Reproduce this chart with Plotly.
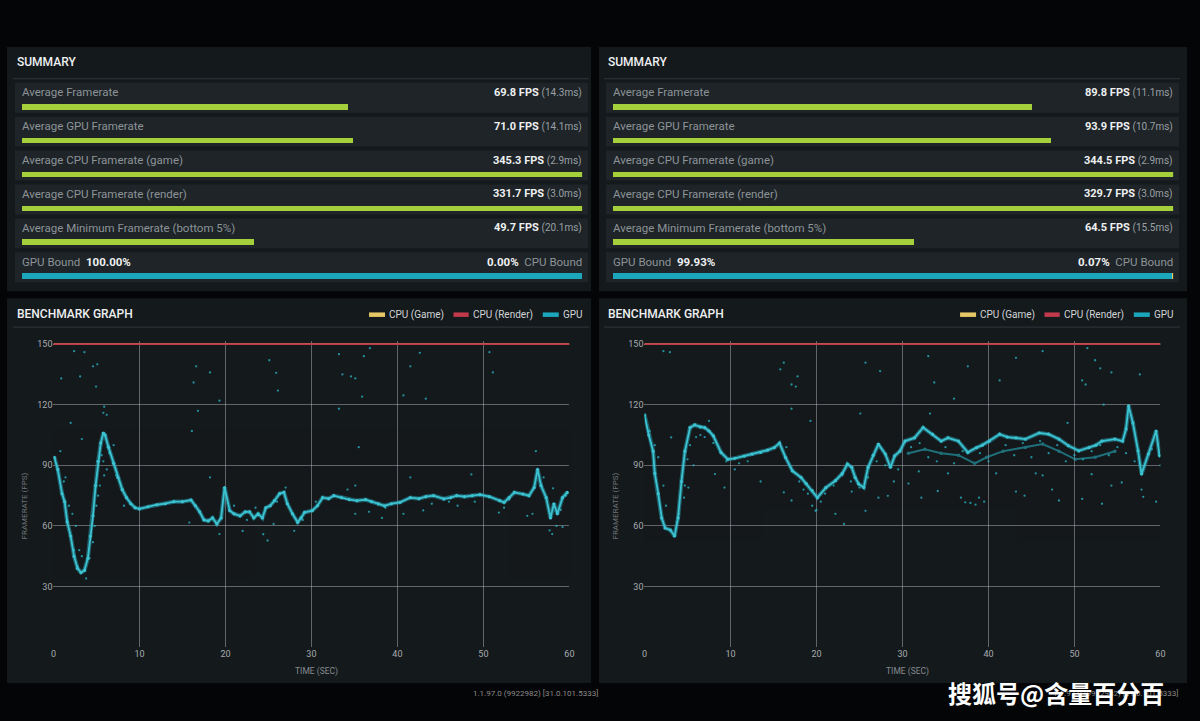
import plotly.graph_objects as go

W, H = 1200, 721
FONT = "Roboto"

# ---------------- data ----------------
SUMMARY_LABELS = ["Average Framerate", "Average GPU Framerate", "Average CPU Framerate (game)",
                  "Average CPU Framerate (render)", "Average Minimum Framerate (bottom 5%)"]
FPS_A = [69.8, 71.0, 345.3, 331.7, 49.7]
MS_A = [14.3, 14.1, 2.9, 3.0, 20.1]
FPS_B = [89.8, 93.9, 344.5, 329.7, 64.5]
MS_B = [11.1, 10.7, 2.9, 3.0, 15.5]
GPU_BOUND_A, CPU_BOUND_A = 100.00, 0.00
GPU_BOUND_B, CPU_BOUND_B = 99.93, 0.07
BAR_MAX_FPS = 120
GRAPH_MAX_FPS = 150
X_TICKS = [0, 10, 20, 30, 40, 50, 60]
Y_TICKS = [30, 60, 90, 120, 150]
LEGEND_NAMES = ["CPU (Game)", "CPU (Render)", "GPU"]
VERSION = "1.1.97.0 (9922982) [31.0.101.5333]"
WATERMARK = "搜狐号@含量百分百"

TIME_A = [0.1, 0.5, 1.0, 1.3, 1.6, 2.0, 2.4, 2.8, 3.2, 3.6, 4.0, 4.3, 4.6, 4.9, 5.2, 5.5, 5.8, 6.0, 6.4, 7.0,
          7.5, 8.0, 8.5, 9.0, 9.5, 10.0, 11.0, 12.0, 13.0, 14.0, 15.0, 16.0, 16.5, 17.0, 17.5, 18.0, 18.5, 19.0,
          19.5, 19.9, 20.5, 21.0, 21.7, 22.3, 22.8, 23.3, 23.8, 24.3, 24.7, 25.2, 25.7, 26.3, 26.8, 27.2, 27.8,
          28.4, 28.8, 29.2, 30.1, 30.7, 31.3, 32.0, 32.6, 33.5, 34.4, 35.3, 36.3, 37.0, 37.8, 38.5, 39.3, 40.3,
          41.5, 42.5, 43.3, 44.2, 45.4, 46.2, 46.9, 47.8, 48.7, 49.6, 50.7, 51.9, 52.4, 53.0, 53.6, 54.6, 55.3,
          55.9, 56.3, 56.7, 57.3, 57.8, 58.2, 58.6, 59.2, 59.75]
GPU_A = [94, 88, 76, 72, 62, 55, 45, 39, 37, 38, 44, 55, 65, 80, 92, 101, 106, 105, 99, 91,
         84, 78, 74, 71, 69, 68.5, 69.5, 70.5, 71, 72, 72, 72.8, 70, 67, 63, 62.5, 64, 61,
         64, 79, 67.6, 66, 65, 67, 67, 64, 66, 64, 69, 70, 72.5, 76, 76.6, 71, 66,
         61.8, 64, 66.7, 67.6, 70, 74, 73.5, 75, 74, 73, 72.5, 73, 72, 70.9, 70, 71, 71.7,
         74, 73.5, 74.5, 75, 73.4, 74, 75, 74.5, 75, 75.5, 74.5, 72.5, 71.7, 74, 76.6, 75.8, 75,
         79, 88, 80, 74, 64, 71, 66, 74, 76.6]
DOTS_A = [(2.4, 146.5), (3.6, 146), (4.6, 139), (5.1, 140), (0.9, 133), (4.95, 129), (3.1, 134), (5.9, 119),
          (5.8, 116), (6.2, 115), (2.0, 111), (16.6, 139), (16.3, 131), (16.8, 117), (18.2, 136), (16.1, 107),
          (18.2, 84), (3.3, 103), (8.2, 70), (15.8, 61.7), (25.9, 135.8), (26.1, 127), (33.2, 145), (33.6, 135),
          (34.6, 134), (35.1, 133), (35.9, 124), (36.1, 144), (36.8, 148), (33.2, 118), (35.5, 99), (25.1, 142),
          (19.3, 122), (35.1, 80), (34.2, 78), (24.9, 52.8), (24.4, 55.9), (22.0, 57.5), (19.3, 56), (28.0, 57.6),
          (25.6, 61), (35.1, 66), (38.2, 64), (38.6, 69), (36.7, 67), (42.6, 145.7), (41.5, 139), (50.7, 146),
          (51.1, 136), (43.3, 123), (40.7, 124.6), (56.1, 97), (48.6, 85.5), (41.5, 84), (40.7, 66), (43.0, 67.7),
          (47.0, 70), (52.4, 69), (51.8, 66.6), (55.1, 65), (55.7, 66), (58.0, 56), (57.7, 57.8), (59.2, 59.5),
          (58.1, 78.6), (59.6, 75), (1.2, 82), (1.8, 70), (2.2, 66), (2.6, 60), (3.0, 48), (3.3, 45), (4.6, 52),
          (4.8, 60), (5.2, 75), (5.4, 80), (5.6, 95), (5.8, 92), (6.2, 88), (6.5, 96), (7.0, 100), (7.3, 85),
          (0.8, 97), (1.4, 84), (2.4, 48), (2.8, 40), (3.8, 34), (4.2, 44), (5.0, 70), (5.9, 85),
          (21.0, 70), (22.5, 63), (23.5, 69), (26.0, 72), (27.0, 79), (29.0, 63), (30.5, 72), (44.0, 71),
          (46.0, 72), (49.0, 72), (53.0, 73), (57.0, 84), (58.5, 60), (59.0, 68)]

TIME_B = [0.0, 0.5, 1.0, 1.2, 1.6, 2.0, 2.4, 3.0, 3.5, 3.9, 4.3, 4.7, 5.3, 5.85, 6.5, 7.0, 7.5, 8.0, 8.9, 9.7,
          10.5, 11.6, 12.5, 13.5, 14.3, 15.1, 15.7, 16.4, 17.2, 18.2, 18.8, 19.5, 20.1, 21.1, 22.2, 23.0, 23.6,
          24.1, 24.5, 24.9, 25.5, 26.0, 26.6, 27.2, 28.0, 28.6, 29.1, 29.7, 30.3, 31.4, 32.4, 33.5, 34.5, 35.3,
          36.5, 37.6, 38.6, 39.3, 40.1, 41.3, 42.2, 43.2, 44.3, 45.9, 47.0, 48.2, 49.3, 50.5, 51.7, 52.5, 53.2,
          54.7, 55.6, 56.0, 56.3, 56.8, 57.4, 57.8, 58.6, 59.5, 59.9]
GPU_B = [115, 105, 97, 86, 76, 64, 59, 58, 55, 64, 82, 97, 108.7, 110, 109, 108.7, 107, 104.6, 96.4, 93,
         93.5, 94.6, 95.5, 96.4, 97.5, 98.8, 101, 93.9, 87.3, 84, 81, 77.5, 74, 79, 82.4, 86, 90.6,
         89, 84, 80.8, 79, 89, 95, 100.5, 95.6, 89, 94.7, 97, 102, 103.6, 108.7, 105.4, 102, 103.6,
         102, 96.4, 98.8, 100, 102, 105.4, 104, 103.6, 103, 106, 105.4, 103, 99.7, 97.2, 98.8, 100, 102,
         103, 102, 108, 119.4, 111, 97.2, 85.7, 95.6, 107, 94.7]
BAND_B_T = [30.7, 32.6, 34.5, 36.5, 38.4, 39.8, 41.7, 44.3, 46.3, 48.2, 50.1, 52.4, 54.7]
BAND_B_F = [96, 98, 96, 95, 91, 94, 97, 98.8, 100.5, 97, 93, 94, 97]
DOTS_B = [(2.2, 146.5), (2.95, 146), (16.2, 140.8), (15.8, 137.5), (17.1, 130), (17.6, 129), (17.8, 134),
          (17.1, 118), (3.1, 103.8), (8.2, 85.7), (9.3, 79), (13.5, 82), (16.2, 76.6), (17.1, 72.6), (5.1, 79),
          (4.0, 66), (4.6, 74), (25.7, 140.8), (27.4, 136.6), (33.0, 144), (33.7, 131), (37.6, 139), (36.0, 123),
          (25.1, 115.6), (33.2, 115.6), (19.3, 112), (22.2, 66), (23.2, 61), (19.9, 67.5), (28.3, 74.9), (27.2, 74),
          (25.7, 67.5), (32.2, 74), (34.1, 77.3), (36.8, 74), (37.9, 71.4), (38.5, 70.6), (24.1, 77), (30.7, 81),
          (35.3, 86), (31.9, 87), (43.2, 143.2), (46.3, 146.5), (51.5, 148), (52.4, 142), (53.0, 138), (54.3, 136),
          (57.6, 135), (50.9, 132), (51.3, 130), (53.4, 120), (41.3, 132), (49.2, 111), (40.9, 86), (43.2, 77),
          (44.2, 75), (47.4, 78), (48.2, 72.6), (50.9, 73.4), (53.2, 71), (54.3, 80), (55.5, 81.5), (57.8, 78),
          (58.0, 74.4), (59.5, 72), (39.5, 72), (38.9, 74), (45.5, 86), (46.3, 85), (52.0, 85.6), (37.3, 71.7),
          (0.6, 107), (1.2, 100), (1.6, 94), (2.2, 80), (2.5, 70), (3.4, 55), (3.8, 62), (4.7, 80), (5.0, 93),
          (5.3, 100), (5.7, 90), (6.0, 104), (6.5, 105), (7.0, 104), (7.5, 112), (8.0, 101), (9.0, 96), (9.5, 92),
          (10.5, 88), (11.0, 91), (12.0, 92), (16.5, 99), (17.0, 89), (18.0, 82), (18.5, 78), (19.0, 76),
          (19.5, 70), (20.0, 68), (20.5, 72), (21.0, 76), (22.0, 80), (23.0, 85), (24.0, 82), (25.0, 79),
          (26.0, 84), (27.0, 92), (28.0, 90), (29.0, 82), (29.5, 88), (31.0, 99), (32.0, 101), (33.0, 94),
          (34.0, 92), (35.0, 99), (36.0, 91), (37.0, 97), (39.0, 96), (40.0, 92), (42.0, 100), (43.0, 95),
          (44.0, 101), (45.0, 94), (46.0, 102), (47.0, 96), (48.0, 100), (49.0, 92), (50.0, 95), (51.0, 93),
          (52.0, 97), (53.0, 100), (54.0, 95), (55.0, 99), (56.0, 96), (57.0, 92), (58.0, 88), (59.0, 98),
          (60.0, 90)]

# ---------------- styles ----------------
PAGE_BG = "#040506"
PANEL_BG = "#14191c"
ROW_BG = "#1e2428"
SEP = "#30373b"
GREEN = "#a6d03b"
CYAN_BAR = "#1ca6bb"
DOT = "#2bb7c8"
RED = "#c2394c"
YELLOW = "#e5c865"
GRID = "rgba(205,208,210,0.42)"
LABEL = "#8d9397"
WHITE = "#eef0f1"


def px(x):
    return x / W


def py(y):
    return 1 - y / H


shapes, annotations = [], []


def rect(x0, y0, x1, y1, color):
    shapes.append(dict(type="rect", xref="paper", yref="paper", x0=px(x0), x1=px(x1), y0=py(y1), y1=py(y0),
                       fillcolor=color, line=dict(width=0), layer="below"))


def hline(x0, x1, y, color):
    shapes.append(dict(type="line", xref="paper", yref="paper", x0=px(x0), x1=px(x1), y0=py(y), y1=py(y),
                       line=dict(color=color, width=1), layer="below"))


def ann(x, y, text, size=11, color=LABEL, xanchor="left", weight=None, family=FONT, **kw):
    font = dict(family=family, size=size, color=color)
    if weight:
        font["weight"] = weight
    annotations.append(dict(x=px(x), y=py(y), xref="paper", yref="paper", text=text, showarrow=False,
                            xanchor=xanchor, yanchor="middle", font=font, borderpad=0, **kw))


def nm(i, a):
    return a if i == 1 else f"{a}{i}"


fig = go.Figure()
axes = {}

panels = [
    dict(o=0, box=(4, 592), fps=FPS_A, ms=MS_A, gpu=GPU_BOUND_A, cpu=CPU_BOUND_A, t=TIME_A, f=GPU_A,
         band=None, dots=DOTS_A),
    dict(o=595, box=(600, 1192), fps=FPS_B, ms=MS_B, gpu=GPU_BOUND_B, cpu=CPU_BOUND_B, t=TIME_B, f=GPU_B,
         band=(BAND_B_T, BAND_B_F), dots=DOTS_B),
]

for p, P in enumerate(panels):
    o = P["o"]
    bx0, bx1 = P["box"]
    a_s, a_b, a_g = 3 * p + 1, 3 * p + 2, 3 * p + 3

    # panel backgrounds
    rect(bx0, 45, bx1, 290, PANEL_BG)
    rect(bx0, 297, bx1, 683, PANEL_BG)
    hline(10 + o, 590 + o, 77, SEP)
    hline(10 + o, 590 + o, 326, SEP)
    for i in range(6):
        rect(12 + o, 81 + 34 * i, 589 + o, 111 + 34 * i, ROW_BG)

    ann(13 + o, 60, "SUMMARY", size=12, color=WHITE, weight=500)
    ann(13 + o, 313, "BENCHMARK GRAPH", size=12, color=WHITE, weight=500)

    # summary rows
    for i, lab in enumerate(SUMMARY_LABELS):
        ann(18 + o, 90.5 + 34 * i, lab, size=11.5, color=LABEL)
        ann(584 + o, 90.5 + 34 * i,
            f"<b>{P['fps'][i]:.1f} FPS</b> <span style='font-size:10px;color:#9aa0a4'>({P['ms'][i]:.1f}ms)</span>",
            size=11, color=WHITE, xanchor="right")
    ann(18 + o, 260.5, f"GPU Bound\u00a0\u00a0<span style='color:{WHITE}'><b>{P['gpu']:.2f}%</b></span>",
        size=11.5, color=LABEL)
    ann(584 + o, 260.5, f"<span style='color:{WHITE}'><b>{P['cpu']:.2f}%</b></span>\u00a0\u00a0CPU Bound",
        size=11.5, color=LABEL, xanchor="right")

    axes[nm(a_s, "xaxis")] = dict(domain=[px(19 + o), px(583 + o)], range=[0, BAR_MAX_FPS], visible=False,
                                  fixedrange=True, anchor=nm(a_s, "y"))
    axes[nm(a_s, "yaxis")] = dict(domain=[py(258), py(88)], range=[len(SUMMARY_LABELS) - 0.5, -0.5],
                                  visible=False, fixedrange=True, anchor=nm(a_s, "x"))
    axes[nm(a_b, "xaxis")] = dict(domain=[px(19 + o), px(583 + o)], range=[0, 100], visible=False,
                                  fixedrange=True, anchor=nm(a_b, "y"))
    axes[nm(a_b, "yaxis")] = dict(domain=[py(292), py(258)], range=[0.5, -0.5], visible=False,
                                  fixedrange=True, anchor=nm(a_b, "x"))

    fig.add_trace(go.Bar(x=P["fps"], y=list(range(len(SUMMARY_LABELS))), orientation="h", width=0.17,
                         marker=dict(color=GREEN, line=dict(width=0)), xaxis=nm(a_s, "x"), yaxis=nm(a_s, "y"),
                         hoverinfo="skip", showlegend=False))
    fig.add_trace(go.Bar(x=[P["gpu"]], y=[0], orientation="h", width=0.17,
                         marker=dict(color=CYAN_BAR, line=dict(width=0)), xaxis=nm(a_b, "x"), yaxis=nm(a_b, "y"),
                         hoverinfo="skip", showlegend=False))
    fig.add_trace(go.Bar(x=[P["cpu"]], y=[0], orientation="h", width=0.17,
                         marker=dict(color=YELLOW, line=dict(width=0)), xaxis=nm(a_b, "x"), yaxis=nm(a_b, "y"),
                         hoverinfo="skip", showlegend=False))

    # benchmark graph axes
    tick_font = dict(family=FONT, size=9, color="#a7abae")
    axes[nm(a_g, "xaxis")] = dict(domain=[px(50.8 + o), px(570.2 + o)], range=[X_TICKS[0], X_TICKS[-1]],
                                  tickvals=X_TICKS, showgrid=True, gridcolor=GRID, gridwidth=1, zeroline=False,
                                  showline=False, ticks="", tickfont=tick_font, fixedrange=True,
                                  anchor=nm(a_g, "y"))
    axes[nm(a_g, "yaxis")] = dict(domain=[py(647), py(340)], range=[0, 151.5], tickvals=Y_TICKS,
                                  showgrid=True, gridcolor=GRID, gridwidth=1, zeroline=False, showline=False,
                                  ticks="", tickfont=tick_font, fixedrange=True, anchor=nm(a_g, "x"))
    gx, gy = nm(a_g, "x"), nm(a_g, "y")
    t_span = [X_TICKS[0], X_TICKS[-1]]
    fig.add_trace(go.Scatter(x=t_span, y=[min(P["fps"][2], GRAPH_MAX_FPS)] * 2, mode="lines",
                             line=dict(color=YELLOW, width=1.6), xaxis=gx, yaxis=gy, hoverinfo="skip",
                             showlegend=False))
    fig.add_trace(go.Scatter(x=t_span, y=[min(P["fps"][3], GRAPH_MAX_FPS)] * 2, mode="lines",
                             line=dict(color=RED, width=1.6), xaxis=gx, yaxis=gy, hoverinfo="skip",
                             showlegend=False))
    fig.add_trace(go.Scatter(x=[d[0] for d in P["dots"]], y=[d[1] for d in P["dots"]], mode="markers",
                             marker=dict(size=2.3, color=DOT, opacity=0.75, line=dict(width=0)),
                             xaxis=gx, yaxis=gy, hoverinfo="skip", showlegend=False))
    if P["band"]:
        fig.add_trace(go.Scatter(x=P["band"][0], y=P["band"][1], mode="lines+markers",
                                 line=dict(color=DOT, width=2), marker=dict(size=3.5, color=DOT), opacity=0.55,
                                 xaxis=gx, yaxis=gy, hoverinfo="skip", showlegend=False))
    fig.add_trace(go.Scatter(x=P["t"], y=P["f"], mode="lines", line=dict(color=DOT, width=4.2), opacity=0.45,
                             xaxis=gx, yaxis=gy, hoverinfo="skip", showlegend=False))
    fig.add_trace(go.Scatter(x=P["t"], y=P["f"], mode="lines+markers", line=dict(color="#3cc3d2", width=1.8),
                             marker=dict(size=3.2, color="#3cc3d2"),
                             xaxis=gx, yaxis=gy, hoverinfo="skip", showlegend=False))

    # legend
    sw = [(368.5, 384.6, 387.5, YELLOW), (453.5, 468.8, 472.0, RED), (543.4, 559.5, 562.7, CYAN_BAR)]
    for (s0, s1, tx, col), name in zip(sw, LEGEND_NAMES):
        rect(s0 + o, 311.3, s1 + o, 315.8, col)
        ann(tx + o, 313.5, name, size=10, color="#d2d5d7")

    ann(22 + o, 505, "FRAMERATE (FPS)", size=8, color="#6f7478", textangle=-90, xanchor="center")
    ann(316 + o, 671, "TIME (SEC)", size=8.5, color="#868b8f", xanchor="center")

ann(600, 693, VERSION, size=8, color="#8c8c8c", xanchor="right")
ann(1184, 693, VERSION, size=8, color="#8c8c8c", xanchor="right")
ann(1060, 692, WATERMARK, size=24, color="#ffffff", xanchor="center", family="Noto Sans CJK SC", weight=700)

fig.update_layout(
    width=W, height=H, autosize=False,
    margin=dict(l=0, r=0, t=0, b=0, pad=0),
    paper_bgcolor=PAGE_BG, plot_bgcolor="rgba(0,0,0,0)",
    barmode="stack", showlegend=False,
    font=dict(family=FONT, color=WHITE),
    shapes=shapes, annotations=annotations,
    **axes,
)

fig.write_html("out.html", config={"displayModeBar": False},
               post_script="document.body.style.margin='0';")
